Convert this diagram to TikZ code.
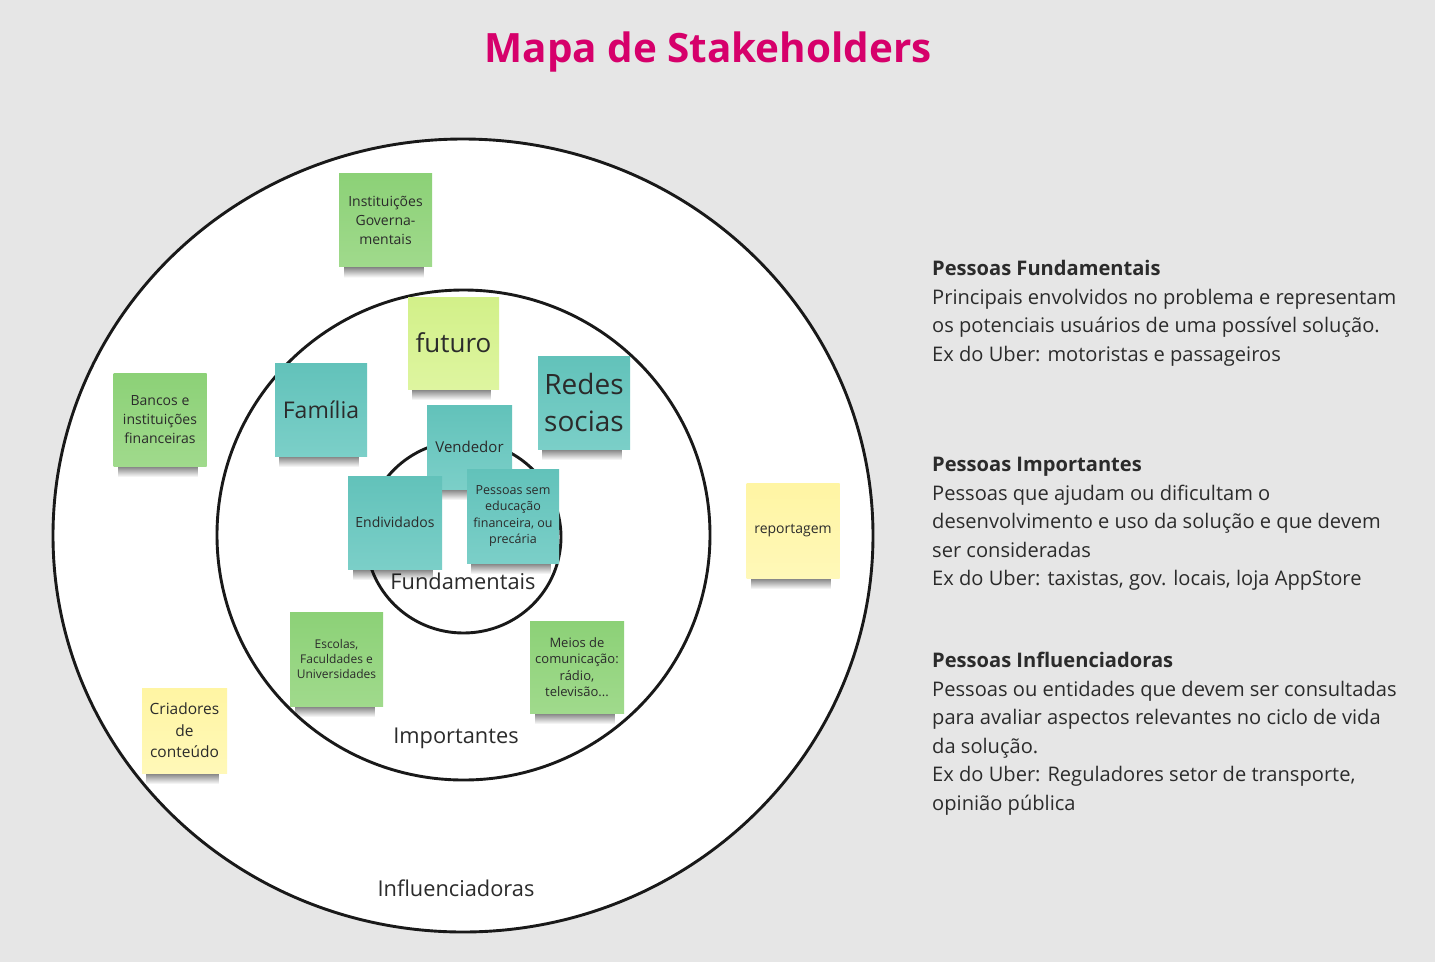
\documentclass[tikz,border=0pt]{standalone}
\usepackage{fontspec}
\setmainfont{Open Sans}
\usetikzlibrary{fadings}
\definecolor{bg}{HTML}{E6E6E6}
\definecolor{titlecol}{HTML}{D6006B}
\definecolor{txt}{HTML}{2B2B2B}
\definecolor{gtop}{HTML}{8CD177}
\definecolor{gbot}{HTML}{A0DA8C}
\definecolor{ttop}{HTML}{62C2BA}
\definecolor{tbot}{HTML}{7BCFC8}
\definecolor{ltop}{HTML}{D2F089}
\definecolor{lbot}{HTML}{DEF5A0}
\definecolor{ytop}{HTML}{FFF5A3}
\definecolor{ybot}{HTML}{FFF8B8}
\newcommand{\fs}[2]{\fontsize{#1pt}{#2pt}\selectfont}
% soft shadow under a sticky note: centre x, centre y, width, height
\newcommand{\stickyshadow}[4]{%
  \fill[black, opacity=0.6, path fading=south] ({#1-0.43*#3-2},{#2+#4/2-2}) rectangle ({#1+0.43*#3-2},{#2+#4/2+11});
}
\tikzset{
  ring/.style={draw=black!90, line width=2.9pt, fill=white},
  sticky/.style={inner sep=0pt, align=center, text=txt,
    minimum width=93pt, minimum height=93pt},
  green/.style={sticky, top color=gtop, bottom color=gbot},
  teal/.style={sticky, top color=ttop, bottom color=tbot},
  lime/.style={sticky, top color=ltop, bottom color=lbot},
  yellow/.style={sticky, top color=ytop, bottom color=ybot},
  ringlabel/.style={text=txt, font=\fs{21.8}{26}},
  head/.style={anchor=base west, inner sep=0pt, text=txt, font=\fs{20.1}{28}\bfseries},
  body/.style={anchor=base west, inner sep=0pt, text=txt, font=\fs{20.1}{28}},
}
\begin{document}
\begin{tikzpicture}[x=1pt,y=-1pt]
\fill[bg] (0,0) rectangle (1435,962);
\useasboundingbox (0,0) rectangle (1435,962);

\node[anchor=base, text=titlecol, font=\fs{40.4}{46}\bfseries] (title) at (708,62) {Mapa de Stakeholders};

% rings
\path[ring] (463,535.5) ellipse [x radius=410, y radius=396.5];
\path[ring] (463.5,535) ellipse [x radius=246.5, y radius=245];
\path[ring] (463.5,537) ellipse [x radius=97.5, y radius=96];

\node[ringlabel] (lfund) at (463,581) {Fundamentais};
\node[ringlabel] (limp) at (456,738) {Importantes};
\node[ringlabel] (linf) at (456,888) {Influenciadoras};

% stickies
\stickyshadow{385.5}{220}{93}{93}
\node[green, font=\fs{14}{19}] (inst) at (385.5,220) {Instituições\\Governa-\\mentais};
\stickyshadow{160}{419.5}{93}{93}
\node[green, font=\fs{14}{19}] (bancos) at (160,419.5) {Bancos e\\instituições\\financeiras};
\stickyshadow{453.5}{343}{91}{92}
\node[lime, font=\fs{26}{30}, minimum width=91pt, minimum height=92pt] (futuro) at (453.5,343) {futuro};
\stickyshadow{321}{409.5}{92}{93}
\node[teal, font=\fs{23}{26}, minimum width=92pt] (familia) at (321,409.5) {Família};
\stickyshadow{584}{402.5}{92}{93}
\node[teal, font=\fs{28}{37}, minimum width=92pt] (redes) at (584,402.5) {Redes\\socias};
\stickyshadow{469.5}{447}{85}{84}
\node[teal, font=\fs{15}{18}, minimum width=85pt, minimum height=84pt] (vend) at (469.5,447) {Vendedor};
\stickyshadow{395}{522.5}{94}{93}
\node[teal, font=\fs{14}{18}, minimum width=94pt] (endiv) at (395,522.5) {Endividados};
\stickyshadow{513}{516}{92}{94}
\node[teal, font=\fs{12.5}{16.3}, minimum width=92pt, minimum height=94pt] (pess) at (513,516) {Pessoas sem\\educação\\financeira, ou\\precária};
\stickyshadow{336.5}{659}{93}{94}
\node[green, font=\fs{12}{15}, minimum height=94pt] (escolas) at (336.5,659) {Escolas,\\Faculdades e\\Universidades};
\stickyshadow{577}{667}{94}{92}
\node[green, font=\fs{13}{16.5}, minimum width=94pt, minimum height=92pt] (meios) at (577,667) {Meios de\\comunicação:\\rádio,\\televisão...};
\stickyshadow{184.5}{730.5}{85}{85}
\node[yellow, font=\fs{15.5}{21.5}, minimum width=85pt, minimum height=85pt] (criad) at (184.5,730.5) {Criadores\\de\\conteúdo};
\stickyshadow{793}{530.5}{93}{95}
\node[yellow, font=\fs{14}{18}, minimum height=95pt] (report) at (793,530.5) {reportagem};

% right-hand text
\node[head] (h1) at (932,275.5) {Pessoas Fundamentais};
\node[body] (h1a) at (932,304) {Principais envolvidos no problema e representam};
\node[body] (h1b) at (932,332.5) {os potenciais usuários de uma possível solução.};
\node[body] (h1c) at (932,361) {Ex do Uber: motoristas e passageiros};

\node[head] (h2) at (932,471.5) {Pessoas Importantes};
\node[body] (h2a) at (932,500) {Pessoas que ajudam ou dificultam o};
\node[body] (h2b) at (932,528.5) {desenvolvimento e uso da solução e que devem};
\node[body] (h2c) at (932,557) {ser consideradas};
\node[body] (h2d) at (932,585.5) {Ex do Uber: taxistas, gov. locais, loja AppStore};

\node[head] (h3) at (932,667.5) {Pessoas Influenciadoras};
\node[body] (h3a) at (932,696) {Pessoas ou entidades que devem ser consultadas};
\node[body] (h3b) at (932,724.5) {para avaliar aspectos relevantes no ciclo de vida};
\node[body] (h3c) at (932,753) {da solução.};
\node[body] (h3d) at (932,781.5) {Ex do Uber: Reguladores setor de transporte,};
\node[body] (h3e) at (932,810) {opinião pública};
\end{tikzpicture}
\end{document}
